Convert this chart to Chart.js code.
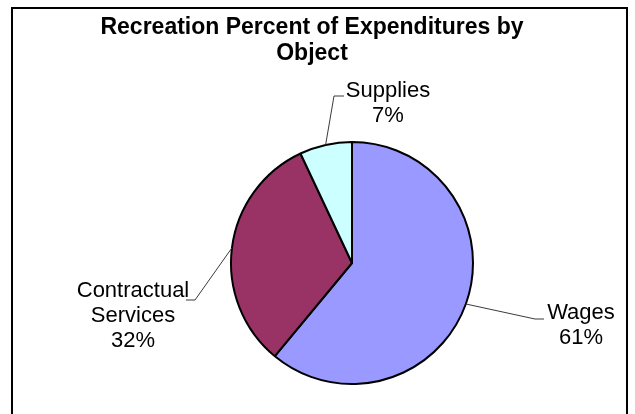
<!DOCTYPE html>
<html>
<head>
<meta charset="utf-8">
<title>Recreation Percent of Expenditures by Object</title>
<script src="https://cdn.jsdelivr.net/npm/chart.js@4/dist/chart.umd.min.js"></script>
<style>
  html, body { margin: 0; padding: 0; background: #ffffff; }
  canvas { display: block; }
</style>
</head>
<body>
<canvas id="chart" width="635" height="414"></canvas>
<script>
// Expenditure categories and their shares (percent), clockwise from 12 o'clock
const categories = ['Wages', 'Contractual Services', 'Supplies'];
const shares = [61, 32, 7];
const sliceColors = ['#9999FF', '#993366', '#CCFFFF'];
const titleLines = ['Recreation Percent of Expenditures by', 'Object'];

// Label text lines for each slice (category words + percent)
const labelLines = [
  ['Wages'],
  ['Contractual', 'Services'],
  ['Supplies']
];

// Leader-line elbow and label placement, relative to the pie centre
const labelLayout = [
  { elbow: [183, 56], tail: 9, text: [229, 56] },
  { elbow: [-157, 37], tail: -9, text: [-219, 34] },
  { elbow: [-18, -167], tail: 10, text: [36, -166] }
];

const FONT = '"Liberation Sans", Arial, Helvetica, sans-serif';

const decorations = {
  id: 'decorations',
  beforeDraw(chart) {
    const ctx = chart.ctx;
    ctx.save();
    // outer frame
    ctx.strokeStyle = '#000000';
    ctx.lineWidth = 2;
    ctx.beginPath();
    ctx.moveTo(12, 430);
    ctx.lineTo(12, 8);
    ctx.lineTo(627, 8);
    ctx.lineTo(627, 430);
    ctx.stroke();
    // title
    ctx.fillStyle = '#000000';
    ctx.font = 'bold 23px ' + FONT;
    ctx.textAlign = 'center';
    ctx.textBaseline = 'alphabetic';
    ctx.fillText(titleLines[0], 312, 34);
    ctx.fillText(titleLines[1], 312, 60);
    ctx.restore();
  },
  afterDatasetsDraw(chart) {
    const ctx = chart.ctx;
    const meta = chart.getDatasetMeta(0);
    ctx.save();
    meta.data.forEach((arc, i) => {
      const p = arc.getProps(['x', 'y', 'startAngle', 'endAngle', 'outerRadius'], true);
      const mid = (p.startAngle + p.endAngle) / 2;
      const sx = p.x + Math.cos(mid) * p.outerRadius;
      const sy = p.y + Math.sin(mid) * p.outerRadius;
      const lay = labelLayout[i];
      const ex = p.x + lay.elbow[0];
      const ey = p.y + lay.elbow[1];
      // leader line
      ctx.strokeStyle = '#3a3a3a';
      ctx.lineWidth = 1;
      ctx.beginPath();
      ctx.moveTo(sx, sy);
      ctx.lineTo(ex, ey);
      ctx.lineTo(ex + lay.tail, ey);
      ctx.stroke();
      // label text
      const lines = labelLines[i].concat([shares[i] + '%']);
      ctx.fillStyle = '#000000';
      ctx.font = '22px ' + FONT;
      ctx.textAlign = 'center';
      ctx.textBaseline = 'alphabetic';
      const tx = p.x + lay.text[0];
      const ty = p.y + lay.text[1];
      lines.forEach((line, k) => {
        ctx.fillText(line, tx, ty + k * 25);
      });
    });
    ctx.restore();
  }
};

new Chart(document.getElementById('chart'), {
  type: 'pie',
  data: {
    labels: categories,
    datasets: [{
      data: shares,
      backgroundColor: sliceColors,
      borderColor: '#000000',
      borderWidth: 2,
      hoverBorderWidth: 2,
      hoverOffset: 0
    }]
  },
  options: {
    responsive: false,
    animation: false,
    layout: { padding: { left: 69, right: 0, top: 141, bottom: 29 } },
    plugins: {
      legend: { display: false },
      tooltip: { enabled: false },
      title: { display: false }
    }
  },
  plugins: [decorations]
});
</script>
</body>
</html>
